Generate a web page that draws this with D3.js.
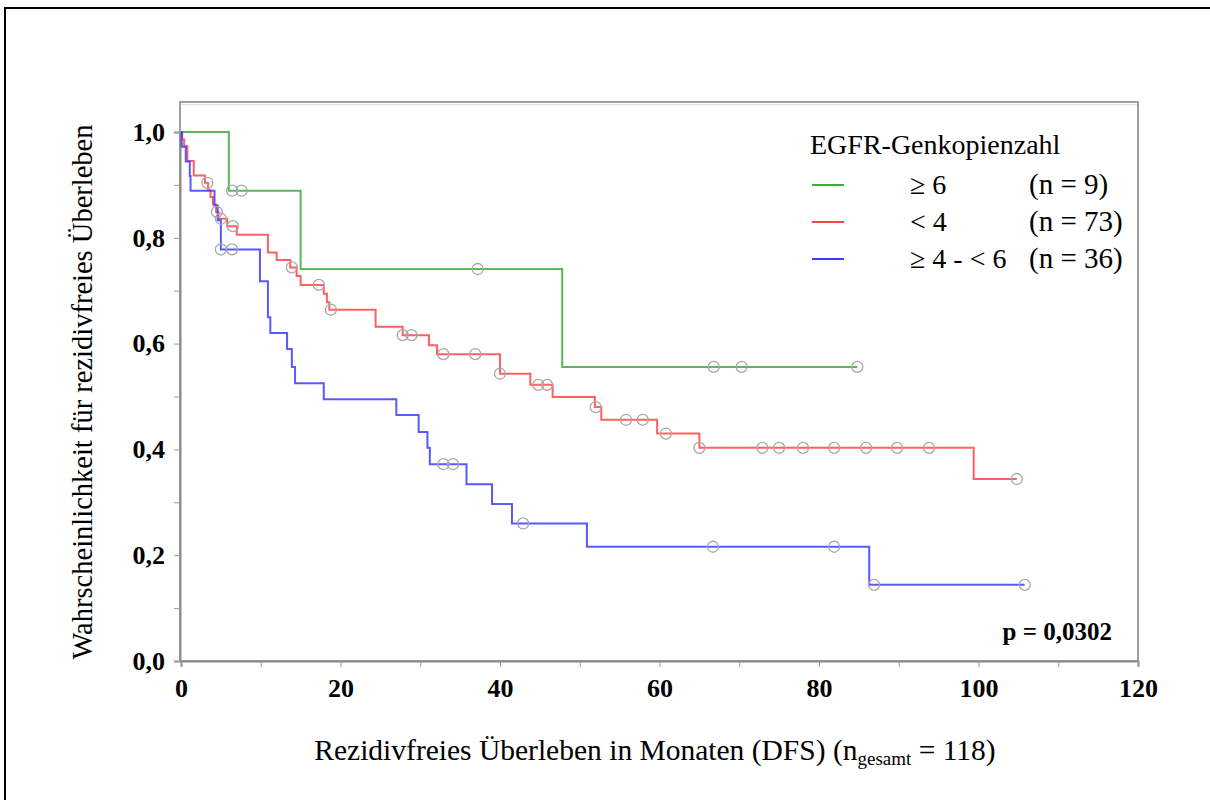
<!DOCTYPE html>
<html>
<head>
<meta charset="utf-8">
<script src="https://cdn.jsdelivr.net/npm/d3@7"></script>
<style>
body { margin: 0; background: #fff; }
svg { display: block; }
text { font-family: "Liberation Serif", "Times New Roman", serif; }
</style>
</head>
<body>
<script>
// Kaplan-Meier step curves (months, survival)
const greenTimes = [0, 6.0, 15.0, 47.8];
const greenSurv = [1, 0.889, 0.741, 0.556];
const greenCensored = [6.4, 7.6, 37.2, 66.8, 70.3, 84.8];

const redTimes = [0, 0.15, 0.4, 0.8, 1.6, 3.0, 3.4, 3.7, 4.0, 4.4, 4.7, 5.8, 7.0, 10.9, 12.0, 13.7, 14.5, 15.0, 17.9, 18.3, 18.6, 24.4, 27.8, 31.1, 32.1, 40.0, 43.8, 46.6, 51.9, 52.7, 59.7, 65.0, 99.4];
const redSurv = [1, 0.986, 0.973, 0.945, 0.918, 0.904, 0.890, 0.877, 0.863, 0.849, 0.836, 0.822, 0.806, 0.772, 0.758, 0.744, 0.728, 0.711, 0.694, 0.678, 0.664, 0.632, 0.616, 0.597, 0.580, 0.543, 0.522, 0.499, 0.480, 0.456, 0.430, 0.403, 0.344];
const redCensored = [3.3, 4.5, 5.0, 6.5, 13.9, 17.3, 18.8, 27.8, 28.9, 32.9, 36.9, 40.0, 44.8, 45.9, 52.0, 55.8, 57.9, 60.8, 65.0, 72.9, 75.0, 78.0, 81.9, 85.9, 89.8, 93.8, 104.8];

const blueTimes = [0, 0.1, 0.6, 1.1, 1.2, 4.2, 4.6, 5.0, 9.9, 10.9, 11.2, 13.3, 13.9, 14.3, 17.9, 27.0, 29.8, 30.9, 31.2, 35.8, 39.0, 41.5, 50.9, 86.3];
const blueSurv = [1, 0.972, 0.944, 0.917, 0.889, 0.861, 0.833, 0.778, 0.718, 0.65, 0.62, 0.59, 0.556, 0.525, 0.495, 0.465, 0.433, 0.403, 0.372, 0.334, 0.297, 0.260, 0.216, 0.144];
const blueCensored = [5.0, 6.4, 32.9, 34.1, 42.9, 66.7, 81.9, 86.9, 105.8];

const legendLabels = ["\u2265 6", "< 4", "\u2265 4 - < 6"];
const legendCounts = ["(n = 9)", "(n = 73)", "(n = 36)"];
const xTicks = [0, 10, 20, 30, 40, 50, 60, 70, 80, 90, 100, 110, 120];
const yTicks = [0, 0.1, 0.2, 0.3, 0.4, 0.5, 0.6, 0.7, 0.8, 0.9, 1.0];

const series = [
  {times: greenTimes, surv: greenSurv, cens: greenCensored, color: "#3faa3f"},
  {times: redTimes, surv: redSurv, cens: redCensored, color: "#ff4545"},
  {times: blueTimes, surv: blueSurv, cens: blueCensored, color: "#3c3cff"}
];

const margin = {top: 102, left: 180},
  width = 958, height = 559;

const svg = d3.select("body").append("svg")
  .attr("width", 1210)
  .attr("height", 800);

// outer frame
svg.append("rect")
  .attr("x", 5).attr("y", 8)
  .attr("width", 1230).attr("height", 820)
  .attr("fill", "none")
  .attr("stroke", "#000")
  .attr("stroke-width", 2);

const g = svg.append("g")
  .attr("transform", `translate(${margin.left},${margin.top})`);

const x = d3.scaleLinear().domain([0, 120]).range([1, width]);
const y = d3.scaleLinear().domain([0, 1]).range([height, 30]);

// plot box
g.append("rect")
  .attr("x", 0).attr("y", 0)
  .attr("width", width).attr("height", height)
  .attr("fill", "#fff")
  .attr("stroke", "#a0a0a0")
  .attr("stroke-width", 2);
g.append("line")
  .attr("x1", 1).attr("x2", width - 1)
  .attr("y1", 2.5).attr("y2", 2.5)
  .attr("stroke", "#e0e0e0");

const yAxis = g.append("g")
  .call(d3.axisLeft(y).tickValues(yTicks).tickSize(6).tickPadding(9)
    .tickFormat(d => Math.round(d * 10) % 2 === 0 ? d3.format(".1f")(d).replace(".", ",") : ""));
const xAxis = g.append("g")
  .attr("transform", `translate(0,${height})`)
  .call(d3.axisBottom(x).tickValues(xTicks).tickSize(6).tickPadding(12)
    .tickFormat(d => d % 20 === 0 ? d : ""));

[yAxis, xAxis].forEach(a => {
  a.select(".domain").attr("stroke", "#8a8a8a").attr("stroke-width", 2);
  a.selectAll(".tick line").attr("stroke", "#9a9a9a");
  a.selectAll(".tick text")
    .attr("fill", "#000")
    .style("font-family", "'Liberation Serif', serif")
    .style("font-size", "26px")
    .style("font-weight", "bold");
});

// survival curves
const line = d3.line()
  .x(d => x(d[0]))
  .y(d => y(d[1]))
  .curve(d3.curveStepAfter);

function survAt(s, t) {
  let v = s.surv[0];
  s.times.forEach((tt, i) => { if (tt <= t) v = s.surv[i]; });
  return v;
}

series.forEach(s => {
  const pts = s.times.map((t, i) => [t, s.surv[i]]);
  const end = d3.max(s.cens);
  pts.push([end, survAt(s, end)]);
  g.append("path")
    .attr("d", line(pts))
    .attr("fill", "none")
    .attr("stroke", s.color)
    .attr("stroke-width", 2)
    .attr("stroke-opacity", 0.85);
});

series.forEach(s => {
  g.selectAll(null)
    .data(s.cens)
    .enter()
    .append("circle")
    .attr("cx", d => x(d))
    .attr("cy", d => y(survAt(s, d)))
    .attr("r", 5.5)
    .attr("fill", "none")
    .attr("stroke", "#a8a8a8")
    .attr("stroke-width", 1.3);
});

// legend
const legend = g.append("g").attr("transform", "translate(630,0)");
legend.append("text")
  .attr("x", 0).attr("y", 52)
  .style("font-size", "28px")
  .text("EGFR-Genkopienzahl");
series.forEach((s, i) => {
  const ly = 83 + i * 37;
  legend.append("line")
    .attr("x1", 2).attr("x2", 34)
    .attr("y1", ly).attr("y2", ly)
    .attr("stroke", s.color)
    .attr("stroke-width", 2);
  legend.append("text")
    .attr("x", 100).attr("y", ly + 9)
    .style("font-size", "28px")
    .text(legendLabels[i]);
  legend.append("text")
    .attr("x", 219).attr("y", ly + 9)
    .style("font-size", "29px")
    .text(legendCounts[i]);
});

// p value
g.append("text")
  .attr("x", width - 26).attr("y", 538)
  .attr("text-anchor", "end")
  .style("font-size", "25px")
  .style("font-weight", "bold")
  .text("p = 0,0302");

// X Axis Label
const xl = svg.append("text")
  .attr("x", 655)
  .attr("y", 760)
  .attr("text-anchor", "middle")
  .style("font-size", "29.5px");
xl.append("tspan").text("Rezidivfreies \u00dcberleben in Monaten (DFS) (n");
xl.append("tspan").attr("dy", 5).style("font-size", "19px").text("gesamt");
xl.append("tspan").attr("dy", -5).text(" = 118)");

// Y Axis Label
svg.append("text")
  .attr("text-anchor", "middle")
  .attr("transform", "rotate(-90)")
  .attr("x", -392)
  .attr("y", 92)
  .style("font-size", "28.5px")
  .text("Wahrscheinlichkeit f\u00fcr rezidivfreies \u00dcberleben");
</script>
</body>
</html>
